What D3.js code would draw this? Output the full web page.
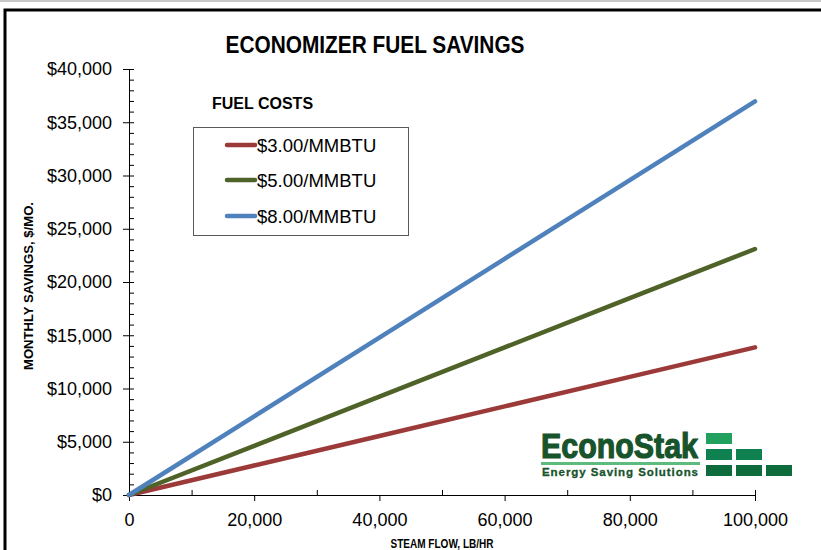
<!DOCTYPE html>
<html>
<head>
<meta charset="utf-8">
<script src="https://cdn.jsdelivr.net/npm/d3@7"></script>
<style>
  body { margin: 0; background: #fff; }
  svg { display: block; }
  text { font-family: "Liberation Sans", Arial, sans-serif; }
</style>
</head>
<body>
<div id="chart"></div>
<script>
// steam flow, lb/hr
const steamFlow = [0, 20000, 40000, 60000, 80000, 100000];
// monthly savings, $/mo for each fuel cost
const savings3 = [0, 2770, 5540, 8320, 11090, 13860];
const savings5 = [0, 4620, 9240, 13860, 18480, 23100];
const savings8 = [0, 7390, 14780, 22180, 29570, 36960];
const seriesNames = ['$3.00/MMBTU', '$5.00/MMBTU', '$8.00/MMBTU'];
const seriesColors = ['#9B3A38', '#4F6228', '#4F81BD'];

const yMajor = [0, 5000, 10000, 15000, 20000, 25000, 30000, 35000, 40000];
const xMajor = [0, 20000, 40000, 60000, 80000, 100000];
const xMinor = [10000, 30000, 50000, 70000, 90000, 100000];

const W = 821, H = 550;
const margin = { left: 129, right: 66, top: 69, bottom: 55 };

const svg = d3.select('#chart').append('svg')
    .attr('width', W)
    .attr('height', H);

// outer frame
svg.append('line')
    .attr('x1', 0).attr('x2', W).attr('y1', 1).attr('y2', 1)
    .attr('stroke', '#c8c8c8').attr('stroke-width', 2);
svg.append('rect')
    .attr('x', 5).attr('y', 10)
    .attr('width', 840).attr('height', 580)
    .attr('fill', 'none')
    .attr('stroke', '#000')
    .attr('stroke-width', 3);

const x = d3.scaleLinear().domain([0, 100000]).range([margin.left, W - margin.right]);
const y = d3.scaleLinear().domain([0, 40000]).range([H - margin.bottom, margin.top]);

// y axis: labelled major ticks on the left, every-1000 ticks on the right
const yAxisL = d3.axisLeft(y)
    .tickValues(yMajor)
    .tickSizeInner(6)
    .tickSizeOuter(0)
    .tickPadding(11)
    .tickFormat(d => '$' + d3.format(',')(d));
const gy = svg.append('g')
    .attr('transform', `translate(${margin.left},0)`)
    .call(yAxisL);
gy.selectAll('text').attr('font-size', '18px').attr('fill', '#000')
    .attr('font-family', '"Liberation Sans", Arial, sans-serif');

const yAxisR = d3.axisRight(y)
    .tickValues(d3.range(0, 40001, 1000))
    .tickSizeInner(5)
    .tickSizeOuter(0)
    .tickFormat('');
svg.append('g')
    .attr('transform', `translate(${margin.left},0)`)
    .call(yAxisR)
    .select('.domain').remove();

// x axis
const xAxisB = d3.axisBottom(x)
    .tickValues(xMajor)
    .tickSizeInner(6)
    .tickSizeOuter(0)
    .tickPadding(12)
    .tickFormat(d3.format(','));
const gx = svg.append('g')
    .attr('transform', `translate(0,${y(0)})`)
    .call(xAxisB);
gx.selectAll('text').attr('font-size', '18px').attr('fill', '#000')
    .attr('font-family', '"Liberation Sans", Arial, sans-serif');

const xAxisT = d3.axisTop(x)
    .tickValues(xMinor)
    .tickSizeInner(5)
    .tickSizeOuter(0)
    .tickFormat('');
svg.append('g')
    .attr('transform', `translate(0,${y(0)})`)
    .call(xAxisT)
    .select('.domain').remove();

// lines
const allSeries = [savings3, savings5, savings8];
const line = d3.line()
    .x((d, i) => x(steamFlow[i]))
    .y(d => y(d));

svg.selectAll('.series')
    .data(allSeries)
    .join('path')
    .attr('class', 'series')
    .attr('d', d => line(d))
    .attr('fill', 'none')
    .attr('stroke', (d, i) => seriesColors[i])
    .attr('stroke-width', 4.5)
    .attr('stroke-linecap', 'round');

// titles
svg.append('text')
    .attr('x', 375).attr('y', 53)
    .attr('text-anchor', 'middle')
    .attr('font-size', '24px')
    .attr('font-weight', 'bold')
    .attr('textLength', 299)
    .attr('lengthAdjust', 'spacingAndGlyphs')
    .text('ECONOMIZER FUEL SAVINGS');

svg.append('text')
    .attr('transform', 'translate(33,286) rotate(-90)')
    .attr('text-anchor', 'middle')
    .attr('font-size', '12px')
    .attr('font-weight', 'bold')
    .attr('textLength', 168)
    .attr('lengthAdjust', 'spacingAndGlyphs')
    .text('MONTHLY SAVINGS, $/MO.');

svg.append('text')
    .attr('x', 442).attr('y', 548)
    .attr('text-anchor', 'middle')
    .attr('font-size', '12px')
    .attr('font-weight', 'bold')
    .attr('textLength', 103)
    .attr('lengthAdjust', 'spacingAndGlyphs')
    .text('STEAM FLOW, LB/HR');

// legend
svg.append('text')
    .attr('x', 212).attr('y', 109)
    .attr('font-size', '16px')
    .attr('font-weight', 'bold')
    .text('FUEL COSTS');

svg.append('rect')
    .attr('x', 193.5).attr('y', 127.5)
    .attr('width', 215).attr('height', 108)
    .attr('fill', '#fff')
    .attr('stroke', '#595959')
    .attr('stroke-width', 1);

const legendY = [145, 180, 216];
const leg = svg.selectAll('.leg')
    .data(seriesNames)
    .join('g')
    .attr('class', 'leg')
    .attr('transform', (d, i) => `translate(0,${legendY[i]})`);
leg.append('line')
    .attr('x1', 227).attr('x2', 255)
    .attr('stroke', (d, i) => seriesColors[i])
    .attr('stroke-width', 4.5)
    .attr('stroke-linecap', 'round');
leg.append('text')
    .attr('x', 257).attr('y', 0)
    .attr('dy', '0.36em')
    .attr('font-size', '18.5px')
    .text(d => d);

// logo
const logo = svg.append('g');
logo.append('text')
    .attr('x', 541).attr('y', 458)
    .attr('font-size', '35px')
    .attr('font-weight', 'bold')
    .attr('fill', '#17532B')
    .attr('stroke', '#17532B')
    .attr('stroke-width', 1.2)
    .attr('textLength', 157)
    .attr('lengthAdjust', 'spacingAndGlyphs')
    .text('EconoStak');
logo.append('rect')
    .attr('x', 541).attr('y', 462)
    .attr('width', 159).attr('height', 3)
    .attr('fill', '#5DBB7E');
logo.append('text')
    .attr('x', 542).attr('y', 476)
    .attr('font-size', '11.5px')
    .attr('font-weight', 'bold')
    .attr('fill', '#17532B')
    .attr('stroke', '#17532B')
    .attr('stroke-width', 0.3)
    .attr('textLength', 156)
    .attr('lengthAdjust', 'spacing')
    .text('Energy Saving Solutions');

const blocks = [
    [706, 433, '#21A05E'],
    [706, 449, '#0F8050'], [736, 449, '#0F8050'],
    [706, 465, '#0E6B3C'], [736, 465, '#0E6B3C'], [766, 465, '#0E6B3C']
];
logo.selectAll('.blk')
    .data(blocks)
    .join('rect')
    .attr('class', 'blk')
    .attr('x', d => d[0]).attr('y', d => d[1])
    .attr('width', 26).attr('height', 11)
    .attr('fill', d => d[2]);
</script>
</body>
</html>
